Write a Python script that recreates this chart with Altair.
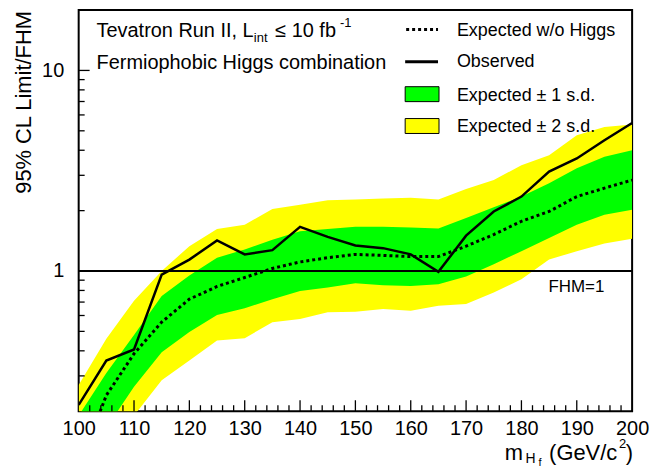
import altair as alt
import pandas as pd

# ---------------- data ----------------
mass = [100, 105, 110, 115, 120, 125, 130, 135, 140, 145, 150,
        155, 160, 165, 170, 175, 180, 185, 190, 195, 200]
observed = [0.215, 0.358, 0.406, 0.96, 1.14, 1.42, 1.21, 1.27, 1.66, 1.48, 1.34,
            1.30, 1.21, 0.99, 1.50, 1.98, 2.35, 3.13, 3.64, 4.49, 5.47]
expected = [0.105, 0.240, 0.387, 0.556, 0.724, 0.837, 0.928, 1.03, 1.11, 1.165, 1.21,
            1.196, 1.18, 1.18, 1.33, 1.52, 1.77, 1.98, 2.35, 2.59, 2.84]
hi1 = [0.19, 0.31, 0.48, 0.75, 0.95, 1.165, 1.28, 1.43, 1.58, 1.62, 1.66,
       1.66, 1.65, 1.63, 1.84, 2.08, 2.35, 2.74, 3.25, 3.71, 4.0]
lo1 = [0.12, 0.165, 0.265, 0.394, 0.496, 0.603, 0.652, 0.724, 0.796, 0.828, 0.869,
       0.85, 0.843, 0.86, 0.938, 1.08, 1.256, 1.46, 1.70, 1.91, 2.02]
hi2 = [0.27, 0.459, 0.71, 1.0, 1.33, 1.62, 1.70, 2.04, 2.14, 2.25, 2.27,
       2.30, 2.32, 2.27, 2.56, 2.84, 3.37, 3.78, 4.75, 5.22, 5.38]
lo2 = [0.09, 0.13, 0.19, 0.285, 0.358, 0.45, 0.462, 0.556, 0.577, 0.622, 0.626,
       0.646, 0.634, 0.671, 0.684, 0.782, 0.91, 1.14, 1.256, 1.37, 1.45]

x_labels = [100, 110, 120, 130, 140, 150, 160, 170, 180, 190, 200]
x_major_ticks = [110, 120, 130, 140, 150, 160, 170, 180, 190]
x_minor_ticks = [102, 104, 106, 108, 112, 114, 116, 118, 122, 124, 126, 128,
                 132, 134, 136, 138, 142, 144, 146, 148, 152, 154, 156, 158,
                 162, 164, 166, 168, 172, 174, 176, 178, 182, 184, 186, 188,
                 192, 194, 196, 198]
y_labels = [1, 10]
y_minor_ticks = [0.3, 0.4, 0.5, 0.6, 0.7, 0.8, 0.9, 2, 3, 4, 5, 6, 7, 8, 9]

df = pd.DataFrame({"mass": mass, "obs": observed, "exp": expected,
                   "hi1": hi1, "lo1": lo1, "hi2": hi2, "lo2": lo2})

W, H = 556, 403
FONT = "Liberation Sans"

xscale = alt.Scale(domain=[100, 200], nice=False, zero=False)
yscale = alt.Scale(type="log", domain=[0.2, 20], nice=False)
xaxis = alt.Axis(values=x_labels, ticks=False, domain=False, grid=False,
                 labelFontSize=20, labelFont=FONT, labelColor="black",
                 labelPadding=7, labelFlush=False, labelOverlap=False, title=None)
yaxis = alt.Axis(values=y_labels, ticks=False, domain=False, grid=False,
                 labelFontSize=20, labelFont=FONT, labelColor="black",
                 labelPadding=15, labelOverlap=False, format="~g", title=None)

X = alt.X("mass:Q", scale=xscale, axis=xaxis)

yellow = alt.Chart(df).mark_area(color="#ffff00", clip=True).encode(
    x=X, y=alt.Y("hi2:Q", scale=yscale, axis=yaxis), y2="lo2:Q")
green = alt.Chart(df).mark_area(color="#00ff00", clip=True).encode(
    x=X, y=alt.Y("hi1:Q", scale=yscale, axis=yaxis), y2="lo1:Q")
fhm = alt.Chart(pd.DataFrame({"one": [1]})).mark_rule(color="black", strokeWidth=1.8).encode(
    y=alt.Y("one:Q", scale=yscale, axis=yaxis), x=alt.value(0), x2=alt.value(W))
exp_line = alt.Chart(df).mark_line(color="black", strokeWidth=3, strokeDash=[3, 3], clip=True).encode(
    x=X, y=alt.Y("exp:Q", scale=yscale, axis=yaxis))
obs_line = alt.Chart(df).mark_line(color="black", strokeWidth=2.5, clip=True).encode(
    x=X, y=alt.Y("obs:Q", scale=yscale, axis=yaxis))

xmaj = alt.Chart(pd.DataFrame({"t": x_major_ticks})).mark_rule(color="black", strokeWidth=1.3).encode(
    x=alt.X("t:Q", scale=xscale, axis=xaxis), y=alt.value(H), y2=alt.value(H - 11))
xmin = alt.Chart(pd.DataFrame({"t": x_minor_ticks})).mark_rule(color="black", strokeWidth=1.3).encode(
    x=alt.X("t:Q", scale=xscale, axis=xaxis), y=alt.value(H), y2=alt.value(H - 6))
ymaj = alt.Chart(pd.DataFrame({"t": y_labels})).mark_rule(color="black", strokeWidth=1.3).encode(
    y=alt.Y("t:Q", scale=yscale, axis=yaxis), x=alt.value(0), x2=alt.value(11))
ymin = alt.Chart(pd.DataFrame({"t": y_minor_ticks})).mark_rule(color="black", strokeWidth=1.3).encode(
    y=alt.Y("t:Q", scale=yscale, axis=yaxis), x=alt.value(0), x2=alt.value(6))


def txt(s, x, y, size, align="left", baseline="alphabetic", angle=0):
    kw = dict(text=s, font=FONT, fontSize=size, color="black", align=align, baseline=baseline)
    if angle:
        kw["angle"] = angle
    return alt.Chart(pd.DataFrame({"a": [0]})).mark_text(**kw).encode(
        x=alt.value(x), y=alt.value(y))


texts = [
    # top-left annotation
    txt("Tevatron Run II, L", 18, 27, 20),
    txt("int", 176, 32, 13),
    txt("\u2264 10 fb", 197.5, 27, 20),
    txt("-1", 262.5, 17.5, 13),
    txt("Fermiophobic Higgs combination", 18, 59, 20),
    # legend
    txt("Expected w/o Higgs", 380, 26, 18),
    txt("Observed", 380, 57.7, 18),
    txt("Expected \u00b1 1 s.d.", 380, 91, 18),
    txt("Expected \u00b1 2 s.d.", 380, 122.7, 18),
    # FHM=1
    txt("FHM=1", 472, 283, 17),
    # y title
    txt("95% CL Limit/FHM", -55, 1, 22, align="right", baseline="middle", angle=270),
    # x title
    txt("m", 428, 452, 22),
    txt("H", 449, 455.5, 14),
    txt("f", 462, 458, 11),
    txt("(GeV/c", 541, 452, 22, align="right"),
    txt("2", 550, 440, 13, align="right"),
    txt(")", 557, 452, 22, align="right"),
]

leg_dot = alt.Chart(pd.DataFrame({"a": [0]})).mark_rule(color="black", strokeWidth=3, strokeDash=[3, 3]).encode(
    x=alt.value(329), x2=alt.value(361), y=alt.value(19.5))
leg_obs = alt.Chart(pd.DataFrame({"a": [0]})).mark_rule(color="black", strokeWidth=3).encode(
    x=alt.value(328), x2=alt.value(361), y=alt.value(52))
leg_g = alt.Chart(pd.DataFrame({"a": [0]})).mark_rect(fill="#00ff00", stroke="black", strokeWidth=1).encode(
    x=alt.value(328), x2=alt.value(362), y=alt.value(77), y2=alt.value(92))
leg_y = alt.Chart(pd.DataFrame({"a": [0]})).mark_rect(fill="#ffff00", stroke="black", strokeWidth=1).encode(
    x=alt.value(328), x2=alt.value(362), y=alt.value(109), y2=alt.value(124))

chart = alt.layer(
    yellow, green, fhm, exp_line, obs_line, xmaj, xmin, ymaj, ymin,
    leg_dot, leg_obs, leg_g, leg_y, *texts
).properties(
    width=W, height=H,
    padding={"left": 71, "top": 1, "right": 25, "bottom": 56},
    autosize=alt.AutoSizeParams(type="none"),
    background="white",
).configure_view(stroke="black", strokeWidth=2)

chart.save("out.html", embed_options={"renderer": "svg", "actions": False})
